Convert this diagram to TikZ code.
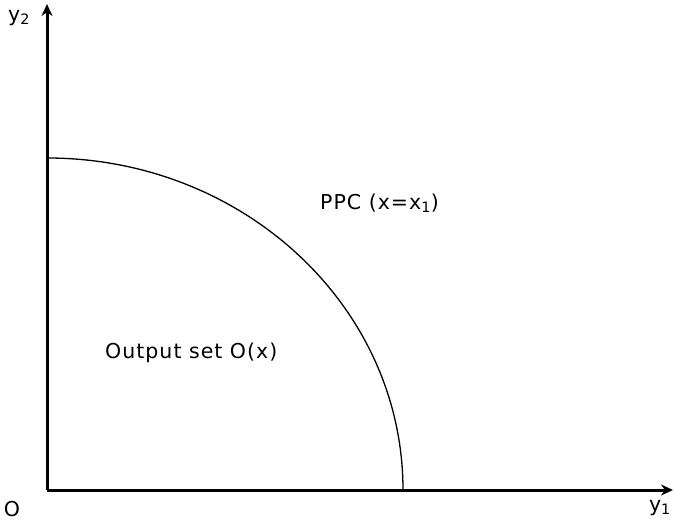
\documentclass[tikz,border=0pt]{standalone}
\usepackage{fontspec}
\setmainfont{DejaVu Sans}
\usetikzlibrary{arrows.meta, positioning}
\tikzset{
  % Axes and curve
  axis/.style={line width=3pt, -{Stealth[length=12pt, width=11pt]}},
  frontier/.style={line width=1.3pt},
  % Labels
  lbl/.style={inner sep=0pt, font=\fontsize{20.5}{24}\selectfont\addfontfeatures{LetterSpace=5}},
}

\begin{document}
\begin{tikzpicture}[x=1pt, y=-1pt]
    \useasboundingbox (0,0) rectangle (675,521);

    % Origin and axis ends
    \coordinate (orig) at (47,490);
    \coordinate (ytop) at (47,4);
    \coordinate (xend) at (673,490);
    \coordinate (ymax) at (47,158);
    \coordinate (xmax) at (403,490);

    % Axes
    \draw[axis] (orig) -- (ytop);
    \draw[axis] (orig) -- (xend);

    % Production possibility curve
    \draw[frontier] (ymax) arc[start angle=90, end angle=0, x radius=356, y radius=-332];

    % Labels
    \node[lbl] (ylab) at (19,18) {y\textsubscript{2}};
    \node[lbl] (olab) at (12,509) {O};
    \node[lbl, anchor=east] (xlab) at (671,508) {y\textsubscript{1}};
    \node[lbl, anchor=west] (ppc) at (320,203) {PPC (x=x\textsubscript{1})};
    \node[lbl, anchor=west] (outset) at (105,353) {Output set O(x)};
\end{tikzpicture}
\end{document}
